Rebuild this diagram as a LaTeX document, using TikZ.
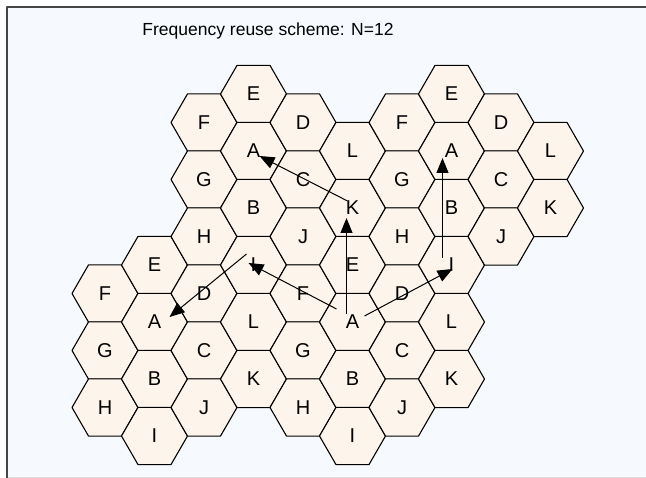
\documentclass[tikz,border=0pt]{standalone}
\usepackage{fontspec}
\setmainfont{Liberation Sans}
\usetikzlibrary{shapes.geometric,arrows.meta,calc}
\definecolor{cellfill}{RGB}{253,245,236}
\definecolor{paper}{RGB}{246,249,253}
\definecolor{framegray}{RGB}{70,70,70}
\begin{document}
\begin{tikzpicture}[x=1pt,y=-1pt,line join=round,
	cell/.style={draw,fill=cellfill,regular polygon,regular polygon sides=6,minimum size=66pt,inner sep=0pt,line width=1.1pt,font=\fontsize{20}{20}\selectfont},
	jump/.style={-{Triangle[length=15pt,width=12pt]},line width=1pt}]
	\useasboundingbox (0,0) rectangle (646,478);
	\def\dx{49.5}
	\def\dy{28.5}
	% window
	\fill[paper] (7,7) rectangle (646,478);
	\draw[black!12] (7,477) -- (646,477);
	\draw[framegray,line width=1.6pt] (7,478) -- (7,7) -- (646,7);
	\node[font=\fontsize{17.5}{17.5}\selectfont] (title) at (268,31) {Frequency reuse scheme: N=12};
	% cells, column by column
	\foreach \c/\k/\labs in {0/7/{F,G,H},1/6/{E,A,B,I},2/1/{F,G,H,D,C,J},3/0/{E,A,B,I,L,K},4/1/{D,C,J,F,G,H},5/2/{L,K,E,A,B,I},6/1/{F,G,H,D,C,J},7/0/{E,A,B,I,L,K},8/1/{D,C,J},9/2/{L,K}}
	\foreach \l [count=\i from 0] in \labs
	\node[cell] (H\c_\i) at (105+\dx*\c,94+\dy*\k+2*\dy*\i) {\l};
	% reuse distances
	\draw[jump] ($(H5_3)+(-6,-8)$) -- ($(H5_1)+(-6,10)$);
	\draw[jump] ($(H5_3)+(-16,-13)$) -- ($(H3_3)+(-5,-2)$);
	\draw[jump] ($(H5_3)+(12,-6)$) -- ($(H7_3)+(1,4)$);
	\draw[jump] ($(H3_3)+(-7,-11)$) -- ($(H1_1)+(15,-5)$);
	\draw[jump] ($(H5_1)+(-5,-7)$) -- ($(H3_1)+(6,5)$);
	\draw[jump] ($(H7_3)+(-9,-7)$) -- ($(H7_1)+(-9,7)$);
\end{tikzpicture}
\end{document}
